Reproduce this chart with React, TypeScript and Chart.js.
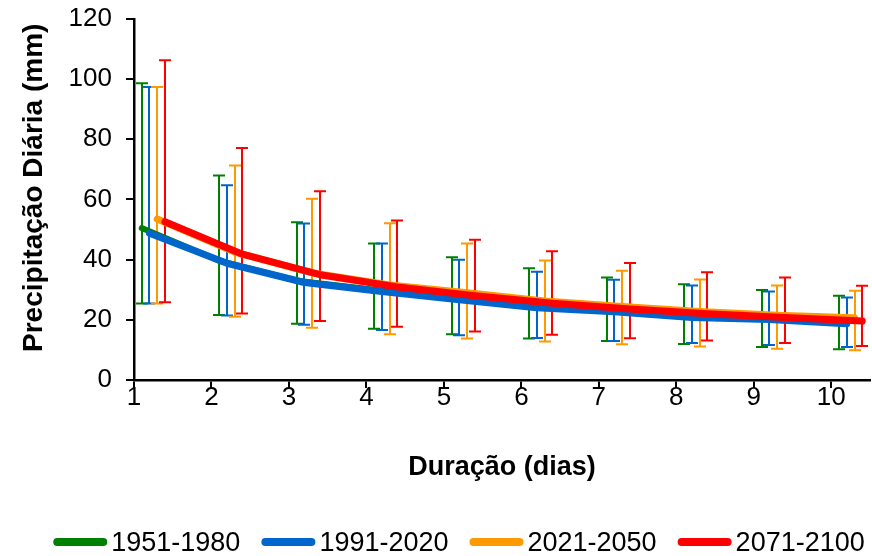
import { useEffect, useRef } from "react";
import { Chart, registerables } from "chart.js";

Chart.register(...registerables);

const FONT = "'Liberation Sans', Arial, Helvetica, sans-serif";

// Categories (duration in days)
const days = [1, 2, 3, 4, 5, 6, 7, 8, 9, 10];
const seriesNames = ["1951-1980", "1991-2020", "2021-2050", "2071-2100"];

// Mean daily precipitation (mm)
const mean1951 = [50.5, 39.6, 33.0, 30.0, 27.2, 24.6, 23.2, 21.3, 20.6, 19.2];
const mean1991 = [48.8, 38.8, 32.4, 29.4, 26.7, 24.0, 22.7, 20.8, 20.1, 18.7];
const mean2021 = [53.5, 42.5, 35.6, 31.6, 29.0, 26.3, 24.4, 22.8, 21.5, 20.7];
const mean2071 = [52.6, 41.8, 35.0, 30.9, 28.0, 25.5, 23.6, 22.0, 20.8, 19.6];

// Error bar upper limits (mm)
const high1951 = [98.6, 68.0, 52.4, 45.4, 40.8, 37.1, 34.1, 31.8, 29.9, 28.0];
const high1991 = [97.4, 64.7, 52.0, 45.4, 40.0, 36.0, 33.3, 31.4, 29.4, 27.4];
const high2021 = [97.4, 71.3, 60.2, 52.1, 45.4, 39.7, 36.3, 33.4, 31.4, 29.7];
const high2071 = [106.3, 77.1, 62.7, 53.0, 46.6, 42.8, 38.9, 35.8, 34.1, 31.3];

// Error bar lower limits (mm)
const low1951 = [25.4, 21.6, 18.7, 17.0, 15.2, 13.8, 13.0, 12.0, 11.0, 10.2];
const low1991 = [25.4, 21.4, 18.4, 16.6, 14.9, 14.0, 13.0, 12.3, 11.6, 11.0];
const low2021 = [25.4, 21.0, 17.4, 15.2, 13.8, 12.8, 11.9, 11.1, 10.4, 9.9];
const low2071 = [25.8, 22.1, 19.6, 17.7, 16.1, 15.0, 13.9, 13.1, 12.3, 11.3];

// Axis setup
const xMin = 1;
const xMax = 10.5;
const yMin = 0;
const yMax = 120;
const yStep = 20;
const xAxisTitle = "Duração (dias)";
const yAxisTitle = "Precipitação Diária (mm)";

const seriesMeans = [mean1951, mean1991, mean2021, mean2071];
const seriesHighs = [high1951, high1991, high2021, high2071];
const seriesLows = [low1951, low1991, low2021, low2071];

// styles
const seriesColors = ["#008000", "#0066CC", "#FF9900", "#FF0000"];
const seriesWidths = [6, 7, 7, 7];
const seriesShift = [0.1, 0.2, 0.3, 0.4];
const seriesOrder = [3, 2, 1, 0];

const errorBarPlugin = {
  id: "errorBars",
  beforeDatasetsDraw(chart: any) {
    const { ctx, scales } = chart;
    const xs = scales.x;
    const ys = scales.y;
    ctx.save();
    chart.data.datasets.forEach((ds: any, i: number) => {
      if (!chart.isDatasetVisible(i)) return;
      ctx.strokeStyle = ds.borderColor;
      ctx.lineWidth = 2;
      ctx.lineCap = "butt";
      ds.data.forEach((pt: any, j: number) => {
        const px = Math.round(xs.getPixelForValue(pt.x));
        const top = ys.getPixelForValue(ds.errHigh[j]);
        const bot = ys.getPixelForValue(ds.errLow[j]);
        const half = 6;
        ctx.beginPath();
        ctx.moveTo(px, top);
        ctx.lineTo(px, bot);
        ctx.moveTo(px - half, top);
        ctx.lineTo(px + half, top);
        ctx.moveTo(px - half, bot);
        ctx.lineTo(px + half, bot);
        ctx.stroke();
      });
    });
    ctx.restore();
  },
};

const legendPlugin = {
  id: "bottomLegend",
  afterDraw(chart: any) {
    const ctx = chart.ctx;
    ctx.save();
    ctx.font = `27px ${FONT}`;
    const lineLen = 54;
    const gap = 4;
    const spacing = 21;
    const items = chart.data.datasets.map((ds: any) => ({
      ds,
      w: ctx.measureText(ds.label).width,
    }));
    const total =
      items.reduce((a: number, it: any) => a + lineLen + gap + it.w, 0) +
      spacing * (items.length - 1);
    const centerX = chart.width / 2 + 23;
    let x = centerX - total / 2;
    const y = chart.height - 12;
    items.forEach((it: any) => {
      const lw = 8;
      ctx.strokeStyle = it.ds.borderColor;
      ctx.lineWidth = lw;
      ctx.lineCap = "round";
      ctx.beginPath();
      ctx.moveTo(x + lw / 2, y - 2);
      ctx.lineTo(x + lineLen - lw / 2, y - 2);
      ctx.stroke();
      ctx.fillStyle = "#000";
      ctx.textAlign = "left";
      ctx.textBaseline = "middle";
      ctx.fillText(it.ds.label, x + lineLen + gap, y);
      x += lineLen + gap + it.w + spacing;
    });
    ctx.restore();
  },
};

export default function App() {
  const canvasRef = useRef<HTMLCanvasElement | null>(null);

  useEffect(() => {
    if (!canvasRef.current) return;
    const datasets = seriesNames.map((name, s) => ({
      label: name,
      data: days.map((d, i) => ({ x: d + seriesShift[s], y: seriesMeans[s][i] })),
      errHigh: seriesHighs[s],
      errLow: seriesLows[s],
      borderColor: seriesColors[s],
      backgroundColor: seriesColors[s],
      borderWidth: seriesWidths[s],
      pointRadius: 0,
      pointHoverRadius: 0,
      showLine: true,
      fill: false,
      tension: 0,
      borderCapStyle: "round",
      borderJoinStyle: "round",
      order: seriesOrder[s],
    }));

    const chart = new Chart(canvasRef.current, {
      type: "scatter",
      data: { datasets: datasets as any },
      options: {
        animation: false,
        responsive: true,
        maintainAspectRatio: false,
        layout: { padding: { top: 0, right: 2, left: 0, bottom: 0 } },
        plugins: {
          legend: { display: false },
          tooltip: { enabled: false },
        },
        scales: {
          x: {
            type: "linear",
            min: xMin,
            max: xMax,
            afterBuildTicks: (scale: any) => {
              scale.ticks = days.map((v) => ({ value: v }));
            },
            afterFit: (scale: any) => {
              scale.height = 176;
            },
            ticks: {
              color: "#000",
              font: { family: FONT, size: 26 },
              padding: -6,
              maxRotation: 0,
              autoSkip: false,
              callback: (v: any) => String(v),
            },
            grid: {
              display: true,
              drawOnChartArea: false,
              drawTicks: true,
              tickLength: 8,
              color: "#000",
              lineWidth: 2,
            },
            border: { display: true, color: "#000", width: 2.5 },
            title: {
              display: true,
              text: xAxisTitle,
              color: "#000",
              font: { family: FONT, size: 27, weight: "bold" },
              padding: { top: 0, bottom: 72 },
            },
          },
          y: {
            type: "linear",
            min: yMin,
            max: yMax,
            afterFit: (scale: any) => {
              scale.width = 134;
            },
            ticks: {
              stepSize: yStep,
              color: "#000",
              font: { family: FONT, size: 26, lineHeight: 0.38 },
              padding: 14,
            },
            grid: {
              display: true,
              drawOnChartArea: false,
              drawTicks: true,
              tickLength: 8,
              color: "#000",
              lineWidth: 2,
            },
            border: { display: true, color: "#000", width: 2.5 },
            title: {
              display: true,
              text: "   " + yAxisTitle,
              color: "#000",
              font: { family: FONT, size: 28, weight: "bold" },
              padding: { top: 17, bottom: 0 },
            },
          },
        },
      },
      plugins: [errorBarPlugin, legendPlugin],
    });

    return () => chart.destroy();
  }, []);

  return (
    <div style={{ position: "absolute", left: 0, top: 0, width: 872, height: 556, background: "#fff" }}>
      <canvas ref={canvasRef} />
    </div>
  );
}
